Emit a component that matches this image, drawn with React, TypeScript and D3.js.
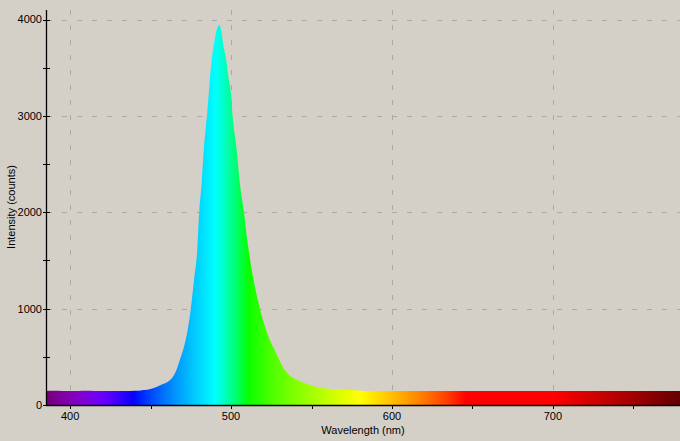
import React from "react";
import * as d3 from "d3";

const wavelengths = [
  385, 390, 395, 400, 405, 410, 415, 420, 425, 430, 435, 440, 443, 446, 450, 454, 458, 461, 464, 466, 468, 470, 472, 474,
  475, 477, 479, 480.2, 481.7, 483, 485, 486, 487, 488, 489.5, 491, 492.5, 494, 495, 497, 498.3, 500, 501, 503.5, 505.5,
  508, 510, 511, 514, 518, 521, 524, 528, 532, 536, 541, 546, 551, 555, 561, 567, 574, 580, 590, 600, 620, 640, 660, 680,
  700, 720, 740, 760, 779,
];
const counts = [
  146, 147, 145, 146, 145, 147, 145, 146, 145, 146, 145, 147, 149, 155, 166, 190, 220, 245, 295, 360, 460, 560, 690, 880,
  1000, 1300, 1610, 2000, 2300, 2640, 3000, 3200, 3410, 3580, 3760, 3890, 3945, 3880, 3760, 3580, 3410, 3230, 3000, 2650,
  2300, 2000, 1720, 1600, 1300, 1000, 820, 680, 540, 400, 315, 260, 225, 197, 180, 168, 160, 155, 149, 146, 145, 146, 145,
  146, 145, 145, 146, 145, 146, 145,
];
const xTicks = [400, 500, 600, 700];
const xMinorTicks = [450, 550, 650, 750];
const yTicks = [0, 1000, 2000, 3000, 4000];
const yMinorTicks = [500, 1500, 2500, 3500];

function wavelengthColor(w: number): string {
  let r = 0, g = 0, b = 0;
  if (w < 440) { r = -(w - 440) / 60; b = 1; }
  else if (w < 490) { g = (w - 440) / 50; b = 1; }
  else if (w < 510) { g = 1; b = -(w - 510) / 20; }
  else if (w < 580) { r = (w - 510) / 70; g = 1; }
  else if (w < 645) { r = 1; g = -(w - 645) / 65; }
  else { r = 1; }
  let f = 1;
  if (w < 420) f = 0.3 + (0.7 * (w - 380)) / 40;
  else if (w > 700) f = 0.3 + (0.7 * (780 - w)) / 80;
  const adj = (c: number) => (c === 0 ? 0 : Math.round(255 * Math.pow(c * f, 0.8)));
  return `rgb(${adj(r)},${adj(g)},${adj(b)})`;
}

export default function App() {
  const W = 680, H = 441;
  const x = d3.scaleLinear().domain([385, 779]).range([46, 680]);
  const y = d3.scaleLinear().domain([0, 4100]).range([405, 10]);
  const data = wavelengths.map((w, i) => ({ w, c: counts[i] }));
  const area = d3
    .area<{ w: number; c: number }>()
    .x((d) => x(d.w))
    .y0(y(0))
    .y1((d) => y(d.c))
    .curve(d3.curveMonotoneX);

  const stops: number[] = [];
  for (let w = 385; w <= 779; w += 3) stops.push(w);
  stops.push(779);

  const font = "'Liberation Sans', Arial, sans-serif";
  const grid = "#a8a8a8";

  return (
    <svg width={W} height={H} style={{ position: "absolute", left: 0, top: 0, background: "#d4d0c8" }}>
      <defs>
        <linearGradient id="spec" gradientUnits="userSpaceOnUse" x1={x(385)} x2={x(779)} y1={0} y2={0}>
          {stops.map((w, i) => (
            <stop key={i} offset={(w - 385) / (779 - 385)} stopColor={wavelengthColor(w)} />
          ))}
        </linearGradient>
      </defs>
      <rect x={0} y={0} width={W} height={H} fill="#d4d0c8" />
      {xTicks.map((t) => (
        <line key={"gx" + t} x1={Math.round(x(t)) + 0.5} x2={Math.round(x(t)) + 0.5} y1={10} y2={405}
          stroke={grid} strokeDasharray="5,10" />
      ))}
      {yTicks.filter((t) => t > 0).map((t) => (
        <line key={"gy" + t} x1={47} x2={680} y1={Math.round(y(t)) + 0.5} y2={Math.round(y(t)) + 0.5}
          stroke={grid} strokeDasharray="5,10" />
      ))}
      <path d={area(data) || ""} fill="url(#spec)" />
      <line x1={46.5} x2={46.5} y1={10} y2={405} stroke="#000" strokeWidth={1.3} />
      <line x1={46} x2={680} y1={405.5} y2={405.5} stroke="#000" strokeWidth={1.3} />
      {yTicks.concat(yMinorTicks).map((t) => (
        <line key={"ty" + t} x1={43} x2={50} y1={Math.round(y(t)) + 0.5} y2={Math.round(y(t)) + 0.5} stroke="#000" />
      ))}
      {xTicks.concat(xMinorTicks).map((t) => (
        <line key={"tx" + t} x1={Math.round(x(t)) + 0.5} x2={Math.round(x(t)) + 0.5} y1={405} y2={409} stroke="#000" />
      ))}
      {yTicks.map((t) => (
        <text key={"ly" + t} x={42} y={y(t)} dy="0.35em" textAnchor="end" fontFamily={font} fontSize={11} fill="#000">
          {t}
        </text>
      ))}
      {xTicks.map((t) => (
        <text key={"lx" + t} x={x(t)} y={419.5} textAnchor="middle" fontFamily={font} fontSize={11} fill="#000">
          {t}
        </text>
      ))}
      <text x={363} y={434} textAnchor="middle" fontFamily={font} fontSize={11} fill="#000">
        Wavelength (nm)
      </text>
      <text transform="translate(15,207) rotate(-90)" textAnchor="middle" fontFamily={font} fontSize={11} fill="#000">
        Intensity (counts)
      </text>
    </svg>
  );
}
